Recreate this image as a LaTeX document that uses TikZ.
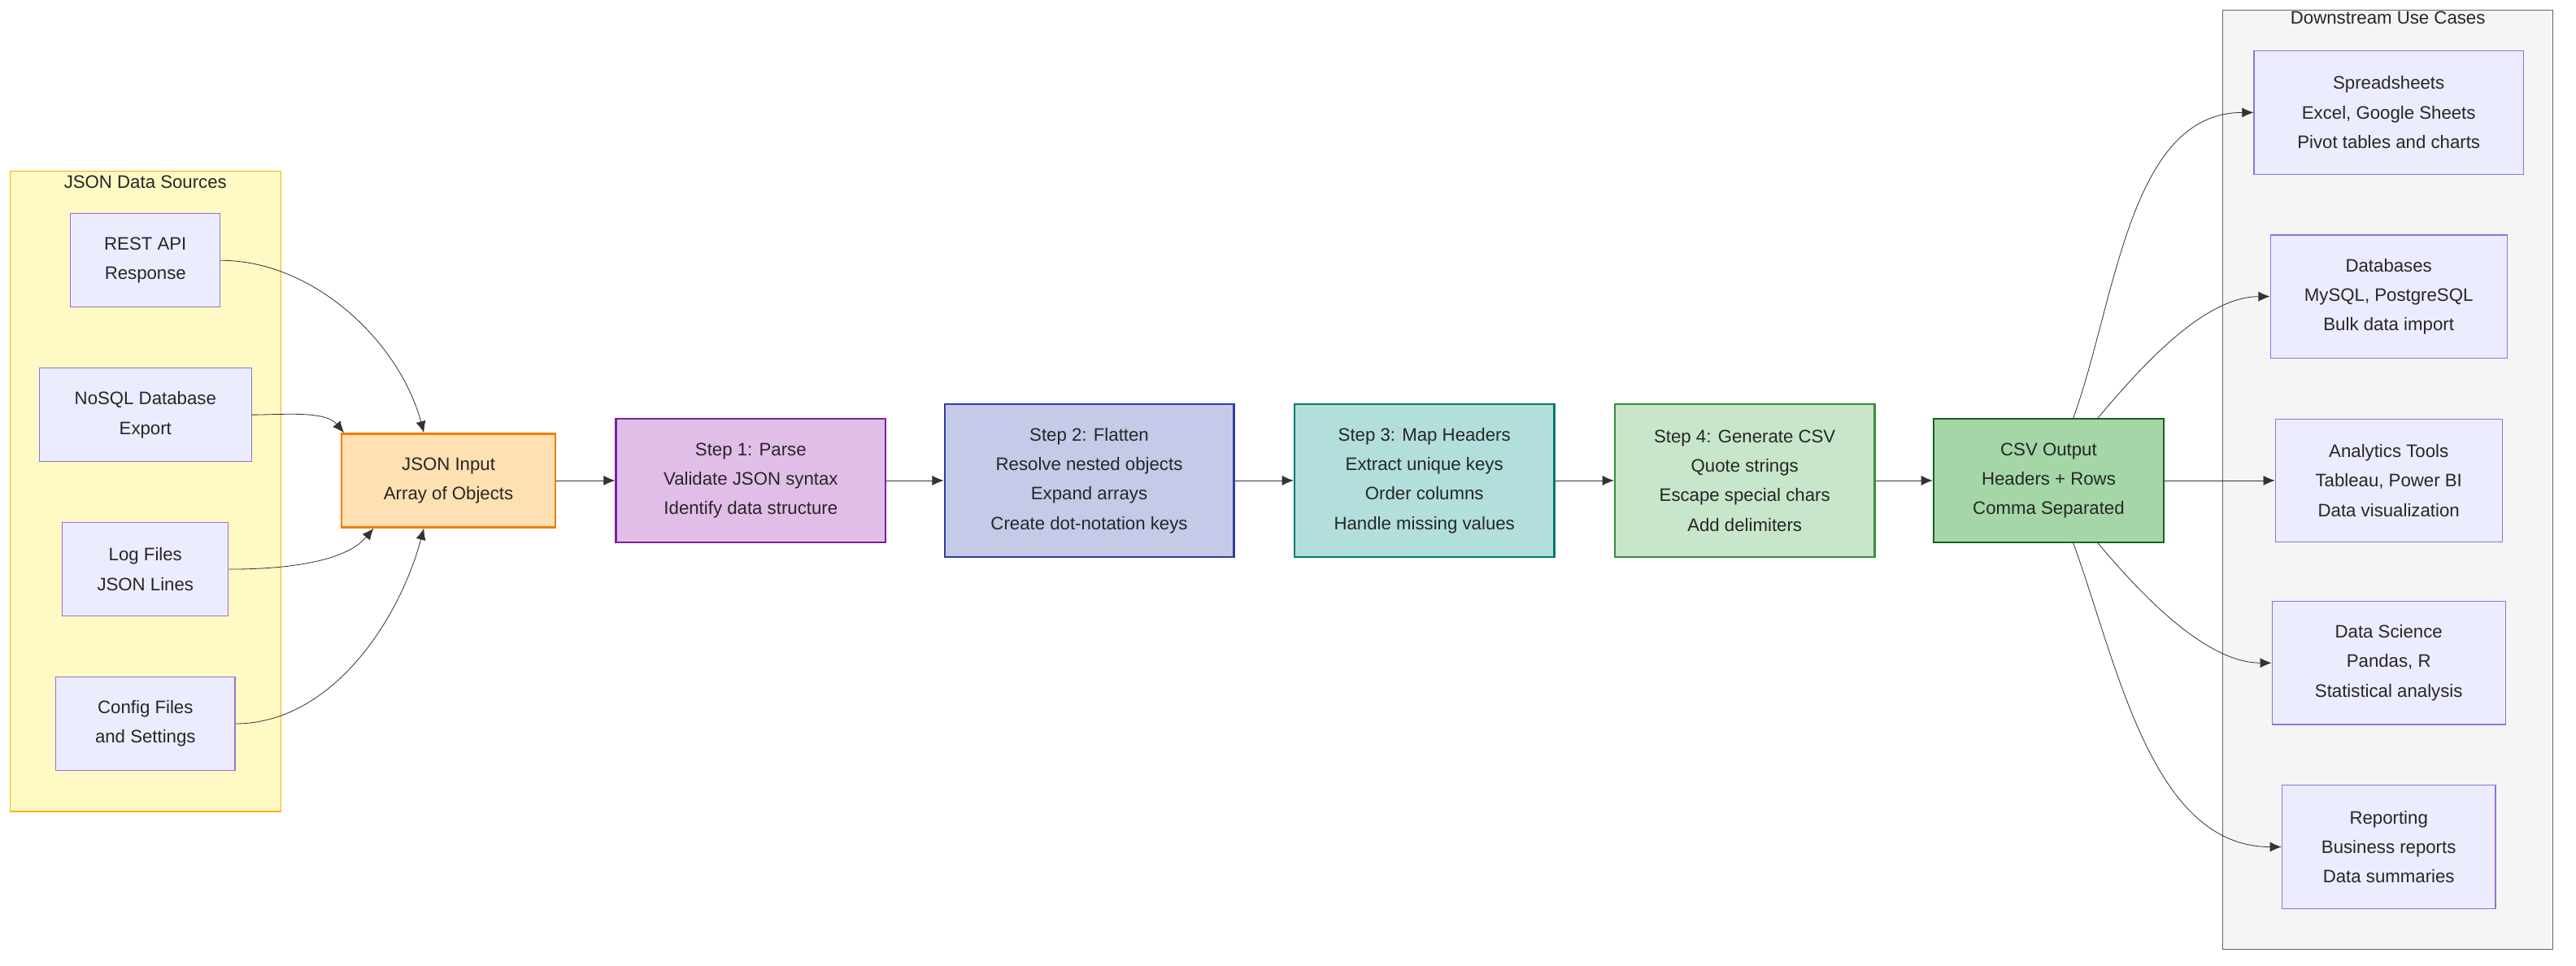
\documentclass[tikz,border=0pt]{standalone}
\usepackage{fontspec}
\setmainfont{Liberation Sans}
\usetikzlibrary{positioning}
\usetikzlibrary{arrows.meta}
\definecolor{srcfill}{HTML}{ECECFF}
\definecolor{srcdraw}{HTML}{9370DB}
\tikzset{
    mynode/.style = {rectangle, thick, align=center, font=\fontsize{11}{18}\selectfont, text=black!85, inner sep=0pt},
    mynodes/.style = {mynode, draw=srcdraw, fill=srcfill, semithick},
    mynodei/.style = {mynode, draw={rgb,255:red,245;green,124;blue,0}, fill={rgb,255:red,255;green,224;blue,178}, very thick},
    mynodep/.style = {mynode, draw={rgb,255:red,123;green,31;blue,162}, fill={rgb,255:red,225;green,190;blue,231}, very thick},
    mynodef/.style = {mynode, draw={rgb,255:red,48;green,63;blue,159}, fill={rgb,255:red,197;green,202;blue,233}, very thick},
    mynodem/.style = {mynode, draw={rgb,255:red,0;green,121;blue,107}, fill={rgb,255:red,178;green,223;blue,219}, very thick},
    mynodeg/.style = {mynode, draw={rgb,255:red,56;green,142;blue,60}, fill={rgb,255:red,200;green,230;blue,201}, very thick},
    mynodeo/.style = {mynode, draw={rgb,255:red,27;green,94;blue,32}, fill={rgb,255:red,165;green,214;blue,167}, very thick},
    edgen/.style = {-{Latex[length=7pt,width=6pt]}, thin, black!80},
}
\begin{document}
\begin{tikzpicture}[x=1pt,y=-1pt]
\path[use as bounding box] (0,0) rectangle (1568,588);
%
% containers
\node[mynode, draw={rgb,255:red,255;green,179;blue,0}, fill={rgb,255:red,255;green,249;blue,196}, semithick, minimum width=165, minimum height=390] at (88.5,299) (srcbox) {};
\node[mynode, anchor=north] at ([yshift=-3]srcbox.north) (srctitle) {JSON Data Sources};
\node[mynode, draw=black!60, fill=black!4, semithick, minimum width=201, minimum height=572] at (1453.5,292) (usebox) {};
\node[mynode, anchor=north] at ([yshift=-1]usebox.north) (usetitle) {Downstream Use Cases};
%
% sources
\node[mynodes, minimum width=91, minimum height=57] at (88.5,158.5) (rest) {REST API\\Response};
\node[mynodes, minimum width=129, minimum height=57] at (88.5,252.5) (nosql) {NoSQL Database\\Export};
\node[mynodes, minimum width=101, minimum height=57] at (88.5,346.5) (logs) {Log Files\\JSON Lines};
\node[mynodes, minimum width=109, minimum height=57] at (88.5,440.5) (config) {Config Files\\and Settings};
%
% pipeline
\node[mynodei, minimum width=130, minimum height=57] at (273,292.5) (input) {JSON Input\\Array of Objects};
\node[mynodep, minimum width=164, minimum height=75] at (457,292.5) (parse) {Step 1: Parse\\Validate JSON syntax\\Identify data structure};
\node[mynodef, minimum width=176, minimum height=93] at (663,292.5) (flatten) {Step 2: Flatten\\Resolve nested objects\\Expand arrays\\Create dot-notation keys};
\node[mynodem, minimum width=158, minimum height=93] at (867,292.5) (headers) {Step 3: Map Headers\\Extract unique keys\\Order columns\\Handle missing values};
\node[mynodeg, minimum width=158, minimum height=93] at (1062,292.5) (gencsv) {Step 4: Generate CSV\\Quote strings\\Escape special chars\\Add delimiters};
\node[mynodeo, minimum width=140, minimum height=75] at (1247,292.5) (csv) {CSV Output\\Headers + Rows\\Comma Separated};
%
% use cases
\node[mynodes, minimum width=164, minimum height=75] at (1454,68.5) (sheets) {Spreadsheets\\Excel, Google Sheets\\Pivot tables and charts};
\node[mynodes, minimum width=144, minimum height=75] at (1454,180.5) (dbs) {Databases\\MySQL, PostgreSQL\\Bulk data import};
\node[mynodes, minimum width=138, minimum height=75] at (1454,292.5) (tools) {Analytics Tools\\Tableau, Power BI\\Data visualization};
\node[mynodes, minimum width=142, minimum height=75] at (1454,403.5) (science) {Data Science\\Pandas, R\\Statistical analysis};
\node[mynodes, minimum width=130, minimum height=75] at (1454,515.5) (report) {Reporting\\Business reports\\Data summaries};
%
\draw[edgen] (rest.east) to[out=0,in=105,looseness=0.9] ([xshift=-15]input.north);
\draw[edgen] (nosql.east) to[out=0,in=130,looseness=0.8] ([xshift=2]input.north west);
\draw[edgen] (logs.east) to[out=0,in=230,looseness=0.8] ([xshift=20]input.south west);
\draw[edgen] (config.east) to[out=0,in=255,looseness=0.9] ([xshift=-15]input.south);
\draw[edgen] (input) -- (parse);
\draw[edgen] (parse) -- (flatten);
\draw[edgen] (flatten) -- (headers);
\draw[edgen] (headers) -- (gencsv);
\draw[edgen] (gencsv) -- (csv);
\draw[edgen] ([xshift=15]csv.north) to[out=70,in=180,looseness=0.9] (sheets.west);
\draw[edgen] ([xshift=30]csv.north) to[out=50,in=180,looseness=0.8] (dbs.west);
\draw[edgen] (csv) -- (tools);
\draw[edgen] ([xshift=30]csv.south) to[out=-50,in=180,looseness=0.8] (science.west);
\draw[edgen] ([xshift=15]csv.south) to[out=-70,in=180,looseness=0.9] (report.west);
\end{tikzpicture}
\end{document}
